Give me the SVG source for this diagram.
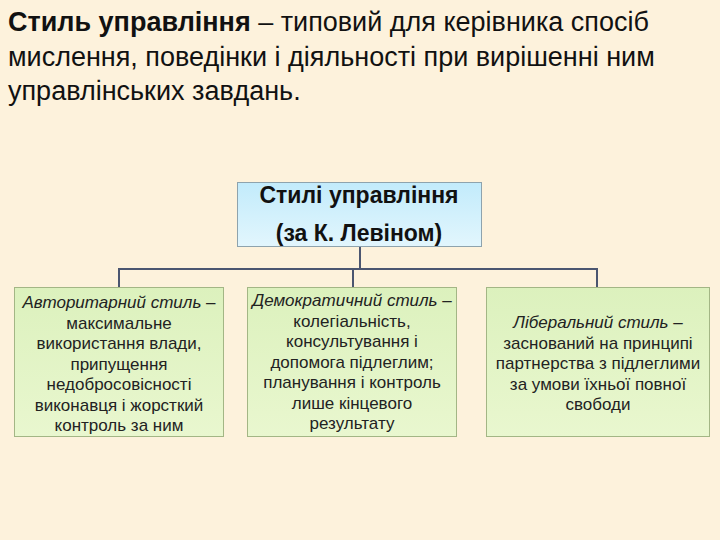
<svg xmlns="http://www.w3.org/2000/svg" width="720" height="540" viewBox="0 0 720 540">
<defs>
<linearGradient id="blueG" x1="0" y1="0" x2="0" y2="1">
<stop offset="0" stop-color="#c2ebfb"/>
<stop offset="1" stop-color="#e2f6fd"/>
</linearGradient>
<linearGradient id="greenG" x1="0" y1="0" x2="0" y2="1">
<stop offset="0" stop-color="#dcf1bd"/>
<stop offset="1" stop-color="#e9f7cf"/>
</linearGradient>
</defs>
<style>
.title{font-family:"Liberation Sans",Arial,sans-serif;font-size:27px;fill:#111}
.b{font-weight:bold}
.hd{font-family:"Liberation Sans",Arial,sans-serif;font-size:23px;font-weight:bold;fill:#111;text-anchor:middle}
.bx{font-family:"Liberation Sans",Arial,sans-serif;font-size:17px;fill:#222;text-anchor:middle}
.i{font-style:italic}
.node-g{fill:url(#greenG);stroke:#a3b685;stroke-width:1}
.node-b{fill:url(#blueG);stroke:#8ea3ad;stroke-width:1}
.conn{fill:none;stroke:#4b5670;stroke-width:2}
</style>
<rect width="720" height="540" fill="#fdf2dc"/>
<g id="title">
<text class="title" x="8" y="31"><tspan class="b">Стиль управління</tspan> – типовий для керівника спосіб</text>
<text class="title" x="8" y="66">мислення, поведінки і діяльності при вирішенні ним</text>
<text class="title" x="8" y="100">управлінських завдань.</text>
</g>
<g id="connectors">
<path class="conn" d="M360,247 V269 M119,287 V269 H597 V287 M353,269 V287"/>
</g>
<g id="root">
<rect class="node-b" x="237.5" y="182.5" width="244" height="64"/>
<text class="hd" x="359" y="203">Стилі управління</text>
<text class="hd" x="359" y="241">(за К. Левіном)</text>
</g>
<g id="autocratic">
<rect class="node-g" x="14.5" y="287.5" width="209" height="149"/>
<text class="bx" x="119" y="308"><tspan class="i">Авторитарний стиль</tspan> –</text>
<text class="bx" x="119" y="328.5">максимальне</text>
<text class="bx" x="119" y="349">використання влади,</text>
<text class="bx" x="119" y="369.5">припущення</text>
<text class="bx" x="119" y="390">недобросовісності</text>
<text class="bx" x="119" y="410.5">виконавця і жорсткий</text>
<text class="bx" x="119" y="431">контроль за ним</text>
</g>
<g id="democratic">
<rect class="node-g" x="247.5" y="287.5" width="209" height="149"/>
<text class="bx" x="352" y="306"><tspan class="i">Демократичний стиль</tspan> –</text>
<text class="bx" x="352" y="326.5">колегіальність,</text>
<text class="bx" x="352" y="347">консультування і</text>
<text class="bx" x="352" y="367.5">допомога підлеглим;</text>
<text class="bx" x="352" y="388">планування і контроль</text>
<text class="bx" x="352" y="408.5">лише кінцевого</text>
<text class="bx" x="352" y="429">результату</text>
</g>
<g id="liberal">
<rect class="node-g" x="486.5" y="287.5" width="223" height="149"/>
<text class="bx" x="598" y="328"><tspan class="i">Ліберальний стиль</tspan> –</text>
<text class="bx" x="598" y="348.5">заснований на принципі</text>
<text class="bx" x="598" y="369">партнерства з підлеглими</text>
<text class="bx" x="598" y="389.5">за умови їхньої повної</text>
<text class="bx" x="598" y="410">свободи</text>
</g>
</svg>
